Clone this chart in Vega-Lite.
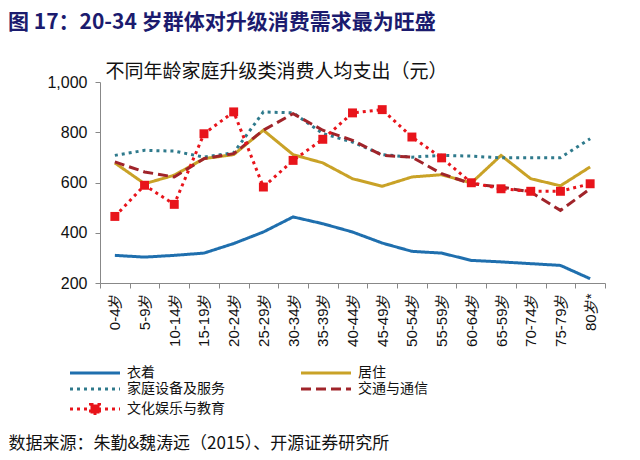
{
  "$schema": "https://vega.github.io/schema/vega-lite/v6.json",
  "width": 505,
  "height": 201,
  "autosize": {"type": "none"},
  "padding": {"left": 100, "top": 82, "right": 35, "bottom": 177},
  "background": "white",
  "title": {
    "text": "图 17：20-34 岁群体对升级消费需求最为旺盛",
    "anchor": "start",
    "frame": "group",
    "dx": -92,
    "offset": 29,
    "fontSize": 21,
    "font": "Noto Sans CJK SC",
    "fontWeight": "bold",
    "color": "#1B1B6E"
  },
  "data": {
    "values": [
      {"age": "0-4岁", "cat": "衣着", "v": 310}, {"age": "5-9岁", "cat": "衣着", "v": 303}, {"age": "10-14岁", "cat": "衣着", "v": 310}, {"age": "15-19岁", "cat": "衣着", "v": 319}, {"age": "20-24岁", "cat": "衣着", "v": 357}, {"age": "25-29岁", "cat": "衣着", "v": 403}, {"age": "30-34岁", "cat": "衣着", "v": 463}, {"age": "35-39岁", "cat": "衣着", "v": 436}, {"age": "40-44岁", "cat": "衣着", "v": 403}, {"age": "45-49岁", "cat": "衣着", "v": 359}, {"age": "50-54岁", "cat": "衣着", "v": 326}, {"age": "55-59岁", "cat": "衣着", "v": 319}, {"age": "60-64岁", "cat": "衣着", "v": 290}, {"age": "65-59岁", "cat": "衣着", "v": 284}, {"age": "70-74岁", "cat": "衣着", "v": 277}, {"age": "75-79岁", "cat": "衣着", "v": 270}, {"age": "80岁*", "cat": "衣着", "v": 217},
      {"age": "0-4岁", "cat": "居住", "v": 678}, {"age": "5-9岁", "cat": "居住", "v": 595}, {"age": "10-14岁", "cat": "居住", "v": 629}, {"age": "15-19岁", "cat": "居住", "v": 695}, {"age": "20-24岁", "cat": "居住", "v": 711}, {"age": "25-29岁", "cat": "居住", "v": 808}, {"age": "30-34岁", "cat": "居住", "v": 711}, {"age": "35-39岁", "cat": "居住", "v": 678}, {"age": "40-44岁", "cat": "居住", "v": 615}, {"age": "45-49岁", "cat": "居住", "v": 585}, {"age": "50-54岁", "cat": "居住", "v": 622}, {"age": "55-59岁", "cat": "居住", "v": 631}, {"age": "60-64岁", "cat": "居住", "v": 598}, {"age": "65-59岁", "cat": "居住", "v": 708}, {"age": "70-74岁", "cat": "居住", "v": 615}, {"age": "75-79岁", "cat": "居住", "v": 587}, {"age": "80岁*", "cat": "居住", "v": 662},
      {"age": "0-4岁", "cat": "家庭设备及服务", "v": 708}, {"age": "5-9岁", "cat": "家庭设备及服务", "v": 728}, {"age": "10-14岁", "cat": "家庭设备及服务", "v": 725}, {"age": "15-19岁", "cat": "家庭设备及服务", "v": 701}, {"age": "20-24岁", "cat": "家庭设备及服务", "v": 718}, {"age": "25-29岁", "cat": "家庭设备及服务", "v": 881}, {"age": "30-34岁", "cat": "家庭设备及服务", "v": 877}, {"age": "35-39岁", "cat": "家庭设备及服务", "v": 795}, {"age": "40-44岁", "cat": "家庭设备及服务", "v": 761}, {"age": "45-49岁", "cat": "家庭设备及服务", "v": 711}, {"age": "50-54岁", "cat": "家庭设备及服务", "v": 701}, {"age": "55-59岁", "cat": "家庭设备及服务", "v": 708}, {"age": "60-64岁", "cat": "家庭设备及服务", "v": 705}, {"age": "65-59岁", "cat": "家庭设备及服务", "v": 698}, {"age": "70-74岁", "cat": "家庭设备及服务", "v": 699}, {"age": "75-79岁", "cat": "家庭设备及服务", "v": 699}, {"age": "80岁*", "cat": "家庭设备及服务", "v": 774},
      {"age": "0-4岁", "cat": "交通与通信", "v": 682}, {"age": "5-9岁", "cat": "交通与通信", "v": 642}, {"age": "10-14岁", "cat": "交通与通信", "v": 622}, {"age": "15-19岁", "cat": "交通与通信", "v": 695}, {"age": "20-24岁", "cat": "交通与通信", "v": 715}, {"age": "25-29岁", "cat": "交通与通信", "v": 808}, {"age": "30-34岁", "cat": "交通与通信", "v": 874}, {"age": "35-39岁", "cat": "交通与通信", "v": 808}, {"age": "40-44岁", "cat": "交通与通信", "v": 768}, {"age": "45-49岁", "cat": "交通与通信", "v": 708}, {"age": "50-54岁", "cat": "交通与通信", "v": 701}, {"age": "55-59岁", "cat": "交通与通信", "v": 635}, {"age": "60-64岁", "cat": "交通与通信", "v": 595}, {"age": "65-59岁", "cat": "交通与通信", "v": 582}, {"age": "70-74岁", "cat": "交通与通信", "v": 562}, {"age": "75-79岁", "cat": "交通与通信", "v": 489}, {"age": "80岁*", "cat": "交通与通信", "v": 575},
      {"age": "0-4岁", "cat": "文化娱乐与教育", "v": 465}, {"age": "5-9岁", "cat": "文化娱乐与教育", "v": 589}, {"age": "10-14岁", "cat": "文化娱乐与教育", "v": 513}, {"age": "15-19岁", "cat": "文化娱乐与教育", "v": 794}, {"age": "20-24岁", "cat": "文化娱乐与教育", "v": 881}, {"age": "25-29岁", "cat": "文化娱乐与教育", "v": 582}, {"age": "30-34岁", "cat": "文化娱乐与教育", "v": 688}, {"age": "35-39岁", "cat": "文化娱乐与教育", "v": 772}, {"age": "40-44岁", "cat": "文化娱乐与教育", "v": 877}, {"age": "45-49岁", "cat": "文化娱乐与教育", "v": 890}, {"age": "50-54岁", "cat": "文化娱乐与教育", "v": 781}, {"age": "55-59岁", "cat": "文化娱乐与教育", "v": 698}, {"age": "60-64岁", "cat": "文化娱乐与教育", "v": 599}, {"age": "65-59岁", "cat": "文化娱乐与教育", "v": 575}, {"age": "70-74岁", "cat": "文化娱乐与教育", "v": 565}, {"age": "75-79岁", "cat": "文化娱乐与教育", "v": 565}, {"age": "80岁*", "cat": "文化娱乐与教育", "v": 595}
    ]
  },
  "encoding": {
    "x": {
      "field": "age",
      "type": "nominal",
      "sort": null,
      "scale": {"type": "band", "paddingInner": 0, "paddingOuter": 0},
      "axis": {
        "title": "数据来源：朱勤&魏涛远（2015）、开源证券研究所",
        "titleAnchor": "start",
        "titleAlign": "left",
        "titleBaseline": "middle",
        "titleX": -92,
        "titleY": 160,
        "titleFont": "Noto Sans CJK SC",
        "titleFontSize": 17,
        "titleFontWeight": "normal",
        "titleColor": "#111111",
        "labelAngle": -90,
        "labelFont": "Liberation Sans",
        "labelFontSize": 15,
        "labelColor": "#111111",
        "labelPadding": 5,
        "tickBand": "extent",
        "tickColor": "#888888",
        "tickSize": 5,
        "domainColor": "#888888"
      }
    },
    "y": {
      "field": "v",
      "type": "quantitative",
      "scale": {"domain": [200, 1000], "nice": false, "zero": false},
      "axis": {
        "values": [200, 400, 600, 800, 1000],
        "format": ",.0f",
        "grid": false,
        "title": "不同年龄家庭升级类消费人均支出（元）",
        "titleAngle": 0,
        "titleX": 176,
        "titleY": -11,
        "titleAlign": "center",
        "titleBaseline": "middle",
        "titleFont": "Noto Sans CJK SC",
        "titleFontSize": 19,
        "titleFontWeight": "normal",
        "titleColor": "#111111",
        "labelFont": "Liberation Sans",
        "labelFontSize": 16,
        "labelColor": "#111111",
        "labelPadding": 8,
        "tickColor": "#888888",
        "tickSize": 5,
        "domainColor": "#888888"
      }
    }
  },
  "layer": [
    {
      "mark": {"type": "line", "strokeWidth": 3},
      "encoding": {
        "color": {
          "field": "cat",
          "type": "nominal",
          "scale": {
            "domain": ["衣着", "居住", "家庭设备及服务", "交通与通信", "文化娱乐与教育"],
            "range": ["#1F6FAE", "#C9A227", "#2F7A8C", "#A0242A", "#E8141B"]
          },
          "legend": {
            "orient": "none",
            "legendX": -32,
            "legendY": 284,
            "direction": "horizontal",
            "columns": 2,
            "columnPadding": 70,
            "rowPadding": 2,
            "title": null,
            "symbolType": "M-1,0H9",
            "symbolSize": 100,
            "symbolStrokeWidth": 3,
            "labelFont": "Noto Sans CJK SC",
            "labelFontSize": 14,
            "labelColor": "#111111",
            "labelOffset": 45,
            "encode": {
              "symbols": {
                "update": {
                  "shape": {"signal": "datum.value === '文化娱乐与教育' ? 'M-1,0H9M3.1,-0.9H4.9V0.9H3.1Z' : 'M-1,0H9'"},
                  "fill": {"signal": "datum.value === '文化娱乐与教育' ? '#E8141B' : 'transparent'"}
                }
              }
            }
          }
        },
        "strokeDash": {
          "field": "cat",
          "type": "nominal",
          "scale": {
            "domain": ["衣着", "居住", "家庭设备及服务", "交通与通信", "文化娱乐与教育"],
            "range": [[1, 0], [1, 0], [3, 4], [10, 5], [3, 4]]
          },
          "legend": {
            "orient": "none",
            "legendX": -32,
            "legendY": 284,
            "direction": "horizontal",
            "columns": 2,
            "columnPadding": 70,
            "rowPadding": 2,
            "title": null
          }
        }
      }
    },
    {
      "transform": [{"filter": "datum.cat === '文化娱乐与教育'"}],
      "mark": {"type": "point", "shape": "square", "filled": true, "size": 80, "opacity": 1, "color": "#E8141B"}
    }
  ],
  "config": {
    "view": {"stroke": null}
  }
}
